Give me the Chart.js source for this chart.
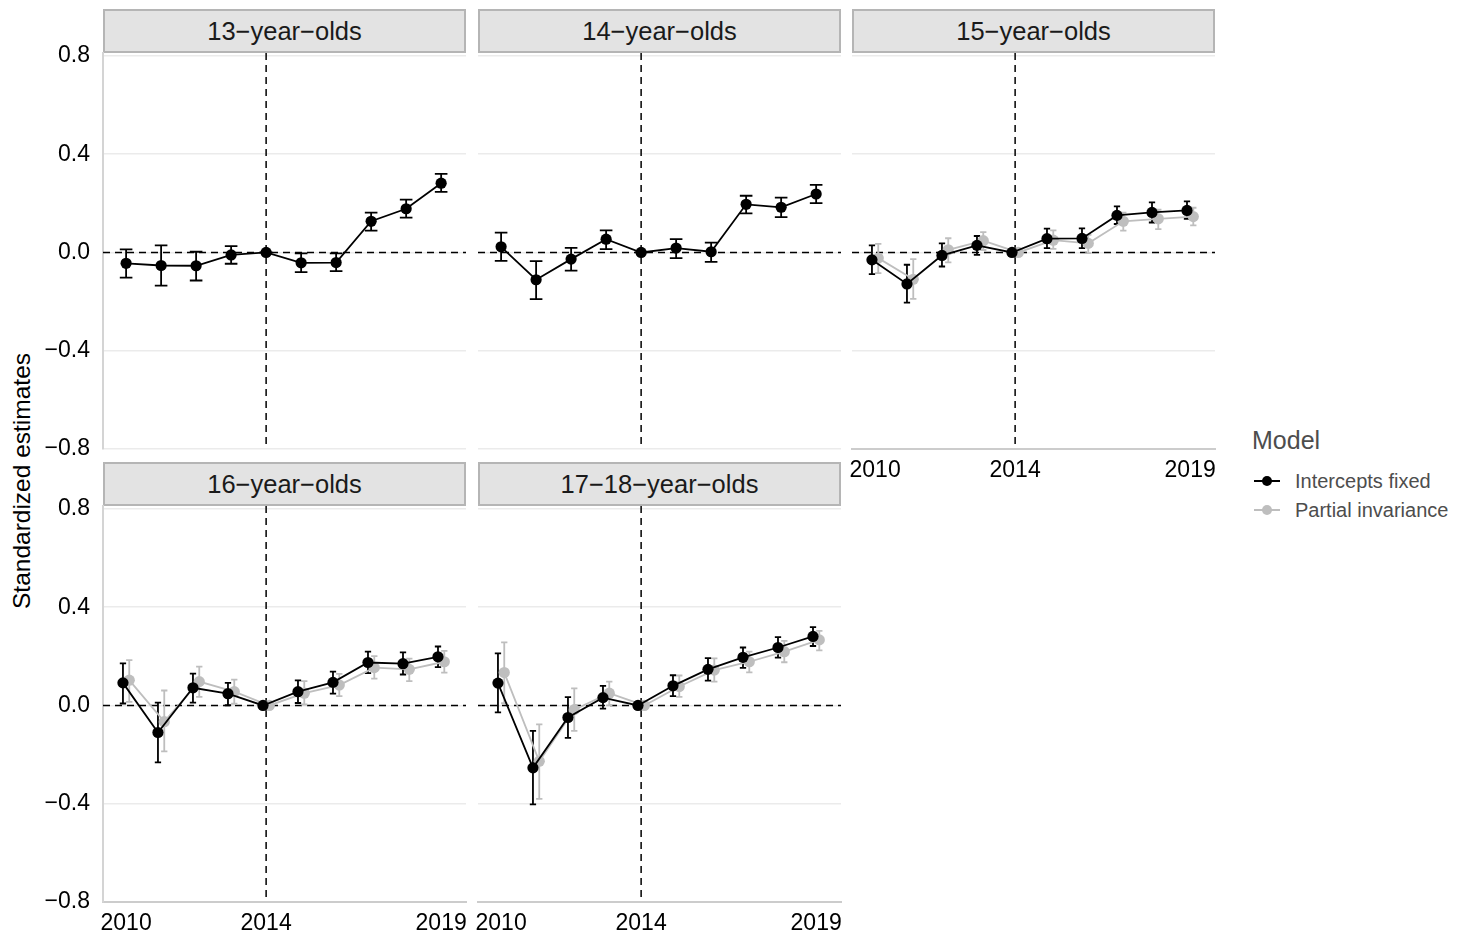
<!DOCTYPE html>
<html>
<head>
<meta charset="utf-8">
<script src="https://cdn.jsdelivr.net/npm/chart.js@4.4.1/dist/chart.umd.min.js"></script>
<style>
  body { margin: 0; background: #fff; width: 1462px; height: 938px; position: relative; overflow: hidden;
         font-family: "Liberation Sans", Arial, sans-serif; }
  .panel { position: absolute; }
  .strip { position: absolute; background: #e3e3e3; border: 2px solid #b5b5b5; box-sizing: border-box;
           text-align: center; color: #1a1a1a; font-size: 25.5px; line-height: 40px; }
  .ytitle { position: absolute; left: 22px; top: 481px; transform: translate(-50%, -50%) rotate(-90deg);
            white-space: nowrap; font-size: 24.5px; color: #000; }
  .legend { position: absolute; left: 1252px; top: 426px; color: #4d4d4d; }
  .legend .title { font-size: 25px; margin-bottom: 12px; }
  .legend .item { position: relative; height: 29px; font-size: 20px; line-height: 29px; padding-left: 43px; }
  .legend .key { position: absolute; left: 2px; top: 13px; width: 26px; height: 2px; }
  .legend .dot { position: absolute; left: 8px; top: -4px; width: 10px; height: 10px; border-radius: 50%; }
</style>
</head>
<body>
<div class="ytitle">Standardized estimates</div>
<div class="legend" id="legend"></div>
<script>
const years = [2010, 2011, 2012, 2013, 2014, 2015, 2016, 2017, 2018, 2019];
const panelTitles = ['13−year−olds', '14−year−olds', '15−year−olds', '16−year−olds', '17−18−year−olds'];
const modelNames = ['Intercepts fixed', 'Partial invariance'];
const modelColors = ['#000000', '#bebebe'];
const xTickValues = [2010, 2014, 2019];
const yTickValues = [-0.8, -0.4, 0, 0.4, 0.8];
const yTickLabels = ['−0.8', '−0.4', '0.0', '0.4', '0.8'];
const refYear = 2014;
const refValue = 0;

// Intercepts fixed: estimate and interval per age group
const fixedEst = [
  [-0.044, -0.053, -0.054, -0.010, 0, -0.042, -0.041, 0.127, 0.178, 0.282],
  [0.023, -0.111, -0.027, 0.054, 0, 0.018, 0.003, 0.196, 0.184, 0.238],
  [-0.030, -0.128, -0.012, 0.029, 0, 0.056, 0.057, 0.151, 0.163, 0.171],
  [0.092, -0.110, 0.072, 0.048, 0, 0.056, 0.094, 0.175, 0.170, 0.198],
  [0.091, -0.254, -0.049, 0.032, 0, 0.080, 0.147, 0.196, 0.236, 0.281]
];
const fixedLow = [
  [-0.102, -0.135, -0.114, -0.046, 0, -0.080, -0.076, 0.089, 0.142, 0.247],
  [-0.034, -0.190, -0.074, 0.014, 0, -0.023, -0.038, 0.159, 0.144, 0.201],
  [-0.088, -0.204, -0.057, -0.010, 0, 0.018, 0.018, 0.116, 0.122, 0.137],
  [0.008, -0.232, 0.012, 0.001, 0, 0.010, 0.048, 0.132, 0.126, 0.156],
  [-0.028, -0.403, -0.132, -0.013, 0, 0.038, 0.101, 0.153, 0.195, 0.242]
];
const fixedHigh = [
  [0.013, 0.029, 0.003, 0.026, 0, -0.004, -0.004, 0.162, 0.215, 0.320],
  [0.081, -0.035, 0.019, 0.090, 0, 0.054, 0.040, 0.231, 0.223, 0.275],
  [0.029, -0.050, 0.037, 0.067, 0, 0.097, 0.098, 0.188, 0.204, 0.208],
  [0.171, 0.012, 0.130, 0.092, 0, 0.102, 0.138, 0.219, 0.216, 0.240],
  [0.212, -0.103, 0.034, 0.080, 0, 0.123, 0.193, 0.236, 0.278, 0.319]
];
// Partial invariance (only fitted for the older groups)
const partialEst = [
  null,
  null,
  [-0.023, -0.109, 0.011, 0.048, 0, 0.050, 0.037, 0.127, 0.137, 0.146],
  [0.103, -0.066, 0.097, 0.056, 0, 0.050, 0.083, 0.154, 0.147, 0.178],
  [0.134, -0.227, -0.017, 0.050, 0, 0.077, 0.144, 0.178, 0.219, 0.267]
];
const partialLow = [
  null,
  null,
  [-0.084, -0.189, -0.040, 0.010, 0, 0.015, -0.003, 0.089, 0.095, 0.110],
  [0.015, -0.187, 0.035, 0.007, 0, 0.004, 0.038, 0.109, 0.099, 0.134],
  [0.009, -0.380, -0.103, 0.000, 0, 0.035, 0.097, 0.135, 0.176, 0.224]
];
const partialHigh = [
  null,
  null,
  [0.035, -0.027, 0.058, 0.083, 0, 0.090, 0.072, 0.162, 0.174, 0.182],
  [0.185, 0.061, 0.158, 0.105, 0, 0.099, 0.129, 0.201, 0.191, 0.222],
  [0.257, -0.077, 0.070, 0.097, 0, 0.122, 0.192, 0.219, 0.263, 0.304]
];

// facet grid geometry
const colLeft = [103, 478, 852];
const panelW = 363;
const rows = [
  { stripTop: 9, top: 53, bottom: 449 },
  { stripTop: 462, top: 506, bottom: 902 }
];
const padLeft = 60, padTop = 14, padRight = 30, padBottom = 40;
const dodge = 0.09;
const tickFont = { family: '"Liberation Sans", Arial, sans-serif', size: 23 };

// dashed reference lines at the base year and at zero
const refLines = {
  id: 'refLines',
  beforeDatasetsDraw(chart) {
    const { ctx, chartArea: a, scales: { x, y } } = chart;
    const px = x.getPixelForValue(refYear);
    const py = y.getPixelForValue(refValue);
    ctx.save();
    ctx.strokeStyle = '#000';
    ctx.lineWidth = 1.5;
    ctx.setLineDash([7, 5]);
    ctx.beginPath();
    ctx.moveTo(px, a.top); ctx.lineTo(px, a.bottom);
    ctx.moveTo(a.left, py); ctx.lineTo(a.right, py);
    ctx.stroke();
    ctx.restore();
  }
};

// vertical error bars with caps, drawn under the points
const errorBars = {
  id: 'errorBars',
  beforeDatasetsDraw(chart) {
    const { ctx, scales: { x, y } } = chart;
    for (let d = chart.data.datasets.length - 1; d >= 0; d--) {
      const ds = chart.data.datasets[d];
      ctx.save();
      ctx.strokeStyle = ds.borderColor;
      ctx.lineWidth = 1.8;
      ds.data.forEach((p, i) => {
        const px = x.getPixelForValue(p.x);
        const half = x.getPixelForValue(p.x + ds.capHalf) - px;
        const lo = y.getPixelForValue(ds.low[i]);
        const hi = y.getPixelForValue(ds.high[i]);
        ctx.beginPath();
        ctx.moveTo(px, lo); ctx.lineTo(px, hi);
        ctx.moveTo(px - half, lo); ctx.lineTo(px + half, lo);
        ctx.moveTo(px - half, hi); ctx.lineTo(px + half, hi);
        ctx.stroke();
      });
      ctx.restore();
    }
  }
};

function makeSeries(est, low, high, color, offset, capHalf) {
  return {
    data: years.map((yr, i) => ({ x: yr + offset, y: est[i] })),
    low: low,
    high: high,
    capHalf: capHalf,
    showLine: true,
    borderColor: color,
    backgroundColor: color,
    borderWidth: 1.8,
    pointRadius: 5.6,
    pointBorderWidth: 0,
    pointBackgroundColor: color
  };
}

panelTitles.forEach((title, p) => {
  const col = p % 3, row = rows[Math.floor(p / 3)];
  const panelH = row.bottom - row.top;
  const showY = col === 0;
  const showX = p >= 2;

  const strip = document.createElement('div');
  strip.className = 'strip';
  strip.style.left = colLeft[col] + 'px';
  strip.style.top = row.stripTop + 'px';
  strip.style.width = panelW + 'px';
  strip.style.height = (row.top - row.stripTop) + 'px';
  strip.textContent = title;
  document.body.appendChild(strip);

  const wrap = document.createElement('div');
  wrap.className = 'panel';
  wrap.style.left = (colLeft[col] - padLeft) + 'px';
  wrap.style.top = (row.top - padTop) + 'px';
  const canvas = document.createElement('canvas');
  canvas.width = padLeft + panelW + padRight;
  canvas.height = padTop + panelH + padBottom;
  wrap.appendChild(canvas);
  document.body.appendChild(wrap);

  const hasPartial = partialEst[p] !== null;
  const datasets = [];
  if (hasPartial) {
    datasets.push(makeSeries(fixedEst[p], fixedLow[p], fixedHigh[p], modelColors[0], -dodge, dodge));
    datasets.push(makeSeries(partialEst[p], partialLow[p], partialHigh[p], modelColors[1], dodge, dodge));
  } else {
    datasets.push(makeSeries(fixedEst[p], fixedLow[p], fixedHigh[p], modelColors[0], 0, 2 * dodge));
  }

  new Chart(canvas, {
    type: 'scatter',
    data: { datasets: datasets },
    plugins: [refLines, errorBars],
    options: {
      responsive: false,
      animation: false,
      events: [],
      layout: { padding: { top: padTop, right: padRight, left: 0, bottom: 0 } },
      plugins: { legend: { display: false }, tooltip: { enabled: false } },
      scales: {
        x: {
          type: 'linear',
          min: 2009.34,
          max: 2019.71,
          afterBuildTicks: s => { s.ticks = xTickValues.map(v => ({ value: v })); },
          afterFit: s => { s.height = padBottom; s.paddingLeft = 0; s.paddingRight = 0; },
          grid: { display: false, drawTicks: false },
          border: { display: showX, color: '#cccccc', width: 2 },
          ticks: { display: showX, autoSkip: false, maxRotation: 0, padding: 8, color: '#000', font: tickFont,
                   callback: v => String(v) }
        },
        y: {
          min: -0.8,
          max: 0.812,
          afterBuildTicks: s => { s.ticks = yTickValues.map(v => ({ value: v })); },
          afterFit: s => { s.width = padLeft; s.paddingTop = 0; s.paddingBottom = 0; },
          grid: { color: '#ebebeb', lineWidth: 1.5, drawTicks: false },
          border: { display: showY, color: '#d4d4d4', width: 2 },
          ticks: { display: showY, padding: 13, color: '#000', font: tickFont,
                   callback: v => yTickLabels[yTickValues.findIndex(t => Math.abs(t - v) < 1e-9)] }
        }
      }
    }
  });
});

// legend for the model colours
const legend = document.getElementById('legend');
legend.innerHTML = '<div class="title">Model</div>' + modelNames.map((name, i) =>
  '<div class="item"><span class="key" style="background:' + modelColors[i] + '">' +
  '<span class="dot" style="background:' + modelColors[i] + '"></span></span>' + name + '</div>').join('');
</script>
</body>
</html>
